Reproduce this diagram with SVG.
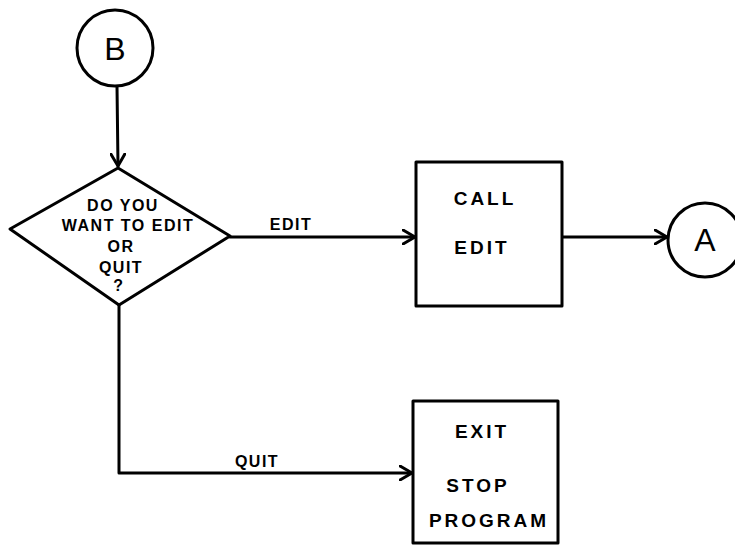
<svg xmlns="http://www.w3.org/2000/svg" width="735" height="546" viewBox="0 0 735 546">
<style>
.s{fill:none;stroke:#000;stroke-width:3;stroke-linejoin:round;stroke-linecap:round}
.n{fill:#fff;stroke:#000;stroke-width:3;stroke-linejoin:round}
text{font-family:"Liberation Sans",Arial,sans-serif;font-weight:bold;fill:#000;text-anchor:middle}
.t{font-size:19px;letter-spacing:3px}
.d{font-size:16px;letter-spacing:1.5px}
.c{font-size:32px;font-weight:normal}
</style>
<defs>
<marker id="ah" viewBox="0 0 14 16" refX="13" refY="8" markerWidth="14" markerHeight="16" markerUnits="userSpaceOnUse" orient="auto">
<path d="M1,1 L13,8 L1,15" fill="none" stroke="#000" stroke-width="3" stroke-linecap="round" stroke-linejoin="round"/>
</marker>
</defs>
<rect width="735" height="546" fill="#fff"/>
<g id="connectors">
<path class="s" d="M117,86 L118,166" marker-end="url(#ah)"/>
<path class="s" d="M230,237 L415,237" marker-end="url(#ah)"/>
<path class="s" d="M562,237 L667,237" marker-end="url(#ah)"/>
<path class="s" d="M119,305 L119,473 L412,473" marker-end="url(#ah)"/>
<text class="d" x="291" y="230">EDIT</text>
<text class="d" x="257" y="467">QUIT</text>
</g>
<g id="B">
<circle class="n" cx="115" cy="48" r="38"/>
<text class="c" x="115" y="60">B</text>
</g>
<g id="decision">
<path class="n" d="M118,168 L230,236 L119,305 L10,229 Z"/>
<text class="d" x="123" y="211">DO YOU</text>
<text class="d" x="128" y="231">WANT TO EDIT</text>
<text class="d" x="121" y="252">OR</text>
<text class="d" x="121" y="273">QUIT</text>
<text class="d" x="119" y="291">?</text>
</g>
<g id="calledit">
<rect class="n" x="416" y="162" width="146" height="144"/>
<text class="t" x="485" y="205">CALL</text>
<text class="t" x="482" y="254">EDIT</text>
</g>
<g id="A">
<circle class="n" cx="705" cy="240" r="37"/>
<text class="c" x="705" y="251">A</text>
</g>
<g id="exit">
<rect class="n" x="413" y="401" width="145" height="142"/>
<text class="t" x="482" y="438">EXIT</text>
<text class="t" x="478" y="492">STOP</text>
<text class="t" x="489" y="527">PROGRAM</text>
</g>
</svg>
